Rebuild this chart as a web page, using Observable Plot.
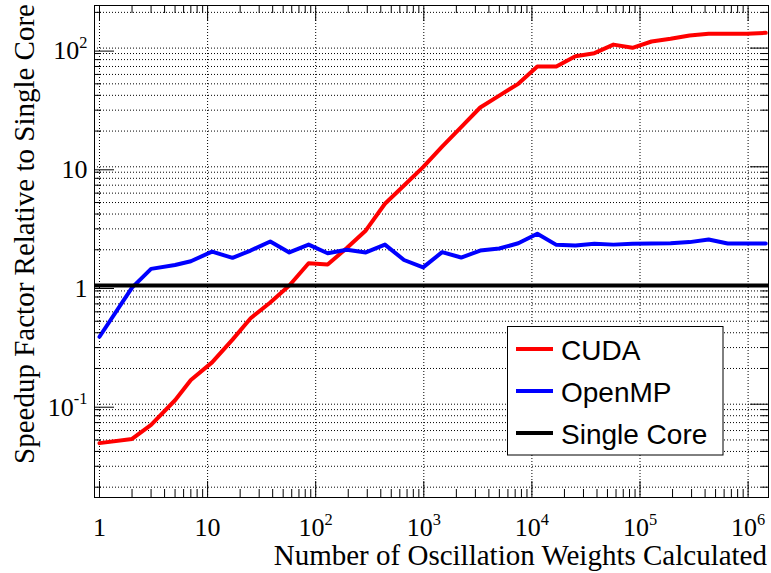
<!DOCTYPE html>
<html><head><meta charset="utf-8">
<script src="https://cdn.jsdelivr.net/npm/d3@7"></script>
<script src="https://cdn.jsdelivr.net/npm/@observablehq/plot@0.6"></script>
<style>body{margin:0;background:#fff} #chart{width:771px;height:573px}</style>
</head><body><div id="chart"></div>
<script>
// ---- data ----
const weights = [1,2,3,5,7,11,17,25,38,57,86,129,194,291,437,656,985,1477,2216,3325,4987,7481,11222,16834,25251,37876,56815,85222,127834,191751,287627,431440,647160,970740,1456109];
const cudaSpeedup = [0.047,0.051,0.067,0.108,0.16,0.225,0.35,0.53,0.72,1.0,1.54,1.50,2.07,2.91,4.88,6.96,9.93,14.8,21.6,31.6,39.8,50,70,70,85.5,90.6,107,100.5,113.7,119.8,127.7,132,132,132,134.5];
const openmpSpeedup = [0.37,0.96,1.38,1.49,1.60,1.93,1.71,1.97,2.35,1.90,2.21,1.87,2.0,1.90,2.21,1.64,1.42,1.91,1.72,1.97,2.05,2.27,2.73,2.20,2.17,2.25,2.21,2.25,2.26,2.27,2.32,2.44,2.26,2.26,2.26];
const singleCore = [1];
const seriesNames = ["CUDA", "OpenMP", "Single Core"];
const seriesColors = ["#ff0000", "#0000ff", "#000000"];
const xMajorTicks = [1, 10, 1e2, 1e3, 1e4, 1e5, 1e6];
const yMajorTicks = [0.1, 1, 10, 100];
const xTitle = "Number of Oscillation Weights Calculated";
const yTitle = "Speedup Factor Relative to Single Core";

// ---- scales ----
const xDomain = [0.899, 1.544e6];
const yDomain = [0.01637, 228.5];
const xMinorTicks = [];
for (let d = 0; d <= 6; d++) for (let m = 2; m <= 9; m++) { const v = m * Math.pow(10, d); if (v < xDomain[1]) xMinorTicks.push(v); }
const yMinorTicks = [];
for (let d = -2; d <= 2; d++) for (let m = 2; m <= 9; m++) { const v = m * Math.pow(10, d); if (v > yDomain[0] && v < yDomain[1]) yMinorTicks.push(+v.toPrecision(3)); }
const yGrid = yMajorTicks.concat(yMinorTicks);

const cudaData = weights.map((w, i) => ({x: w, y: cudaSpeedup[i]}));
const openmpData = weights.map((w, i) => ({x: w, y: openmpSpeedup[i]}));

const serif = "'Liberation Serif','Times New Roman',serif";
const sans = "'Liberation Sans',Arial,sans-serif";
const fmt = v => { const e = Math.round(Math.log10(v)); return e === 0 ? "1" : e === 1 ? "10" : "10^" + e; };
const blank = () => "";
const grid = {stroke: "#000", strokeOpacity: 1, strokeWidth: 1, strokeDasharray: "1,2"};

const chart = Plot.plot({
  width: 771, height: 573,
  marginLeft: 94, marginRight: 3, marginTop: 5, marginBottom: 76,
  x: {type: "log", domain: xDomain},
  y: {type: "log", domain: yDomain},
  style: {fontFamily: serif, background: "white", color: "black"},
  marks: [
    Plot.gridY(yGrid, grid),
    Plot.gridX(xMajorTicks, grid),
    Plot.line(cudaData, {x: "x", y: "y", stroke: seriesColors[0], strokeWidth: 4}),
    Plot.line(openmpData, {x: "x", y: "y", stroke: seriesColors[1], strokeWidth: 4}),
    Plot.ruleY(singleCore, {stroke: seriesColors[2], strokeWidth: 4}),
    Plot.axisX(xMajorTicks, {anchor: "bottom", tickSize: -16, tickPadding: 36.5, tickFormat: fmt, fontSize: 26, label: null}),
    Plot.axisX(xMinorTicks, {anchor: "bottom", tickSize: -8, tickFormat: blank, label: null}),
    Plot.axisX(xMajorTicks, {anchor: "top", tickSize: -15, tickFormat: blank, label: null}),
    Plot.axisX(xMinorTicks, {anchor: "top", tickSize: -7, tickFormat: blank, label: null}),
    Plot.axisY(yMajorTicks, {anchor: "left", tickSize: -20, tickPadding: 27, dy: 3, tickFormat: fmt, fontSize: 26, label: null}),
    Plot.axisY(yMinorTicks, {anchor: "left", tickSize: -7, tickFormat: blank, label: null}),
    Plot.axisY(yMajorTicks, {anchor: "right", tickSize: -19, tickFormat: blank, label: null}),
    Plot.axisY(yMinorTicks, {anchor: "right", tickSize: -8, tickFormat: blank, label: null}),
    Plot.frame({stroke: "black", strokeWidth: 1})
  ]
});

const svg = d3.select(chart);
// drop the empty labels of tick-only axes
svg.selectAll("text").filter(function () { return this.textContent === ""; }).remove();
// superscripts for powers of ten
svg.selectAll("text").each(function () {
  const m = /^10\^(-?\d+)$/.exec(this.textContent);
  if (m) {
    const t = d3.select(this);
    t.text("10");
    t.append("tspan").attr("font-size", "0.63em").attr("dy", "-0.7em").text(m[1]);
  }
});
// axis titles
svg.append("text").attr("x", 767).attr("y", 565).attr("text-anchor", "end")
  .attr("font-family", serif).attr("font-size", 29).attr("fill", "black").text(xTitle);
svg.append("text").attr("transform", "translate(34,4) rotate(-90)").attr("text-anchor", "end")
  .attr("font-family", serif).attr("font-size", 29).attr("fill", "black").text(yTitle);
// legend
const lg = svg.append("g");
lg.append("rect").attr("x", 507.5).attr("y", 326.5).attr("width", 215.5).attr("height", 128.5)
  .attr("fill", "white").attr("stroke", "black").attr("stroke-width", 1);
seriesNames.forEach((name, i) => {
  const cy = 349 + i * 42;
  lg.append("line").attr("x1", 516).attr("x2", 553).attr("y1", cy).attr("y2", cy)
    .attr("stroke", seriesColors[i]).attr("stroke-width", 4);
  lg.append("text").attr("x", 561).attr("y", cy).attr("dy", "0.4em").attr("text-anchor", "start")
    .attr("font-family", sans).attr("font-size", 28).attr("fill", "black").text(name);
});
document.getElementById("chart").appendChild(chart);
</script>
</body></html>
